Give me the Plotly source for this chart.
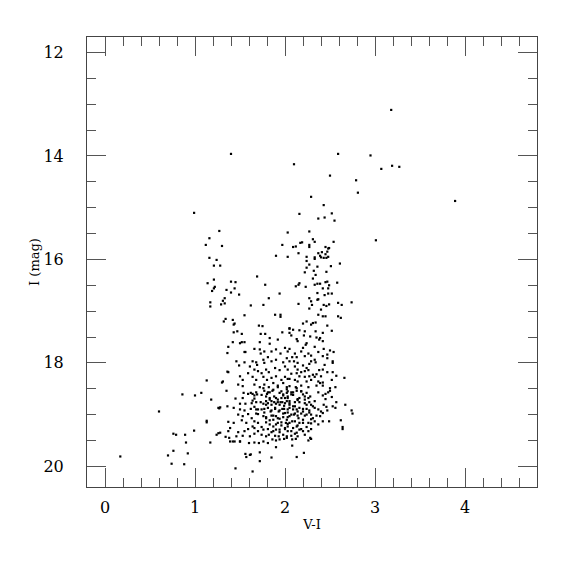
import plotly.graph_objects as go

# (V-I, I) pairs, grouped by region of the diagram
bright_stars = [
    (3.18, 13.11), (2.95, 13.99), (3.19, 14.19), (3.27, 14.21), (3.07, 14.25),
    (3.89, 14.87), (3.01, 15.63), (1.40, 13.96), (2.59, 13.96), (2.10, 14.16),
    (2.50, 14.38), (2.79, 14.47), (2.81, 14.71), (2.29, 14.79), (2.43, 14.95),
    (2.16, 15.12), (2.52, 15.11), (2.37, 15.21), (2.44, 15.19), (2.55, 15.25),
]

blue_branch = [
    (0.99, 15.10), (1.27, 15.45), (1.16, 15.59), (1.12, 15.72), (1.30, 15.74),
    (1.16, 15.97), (1.24, 16.01), (1.21, 16.12), (1.28, 16.12), (1.21, 16.39),
    (1.14, 16.46), (1.22, 16.53), (1.21, 16.56), (1.19, 16.61), (1.35, 16.59),
    (1.33, 16.75), (1.17, 16.83), (1.17, 16.91), (1.31, 16.80), (1.33, 16.85),
    (1.29, 16.87), (1.34, 17.15), (1.32, 17.20), (1.37, 17.69), (1.36, 17.81),
    (1.36, 18.17), (1.37, 18.18), (1.13, 18.34), (1.30, 18.38), (1.31, 18.36),
    (1.35, 18.54), (0.86, 18.61), (1.00, 18.63), (1.07, 18.58), (1.18, 18.71),
    (1.36, 18.84), (1.26, 18.87), (1.28, 18.86), (1.27, 18.88), (0.60, 18.94),
    (1.13, 19.12), (1.13, 19.15), (1.37, 19.14), (0.99, 19.31), (0.76, 19.37),
    (0.79, 19.39), (0.89, 19.39), (1.24, 19.39), (1.26, 19.36), (1.28, 19.35),
    (1.37, 19.32), (1.34, 19.43), (1.38, 19.45), (0.90, 19.54), (1.17, 19.54),
    (0.76, 19.70), (0.70, 19.79), (0.92, 19.75), (0.17, 19.81), (0.74, 19.95),
    (0.88, 19.96),
]

giant_branch = [
    (2.27, 15.46), (2.03, 15.48), (2.31, 15.61), (2.54, 15.66), (2.33, 15.66),
    (2.17, 15.68), (2.19, 15.67), (1.97, 15.72), (2.27, 15.72), (2.27, 15.76),
    (2.09, 15.76), (2.12, 15.75), (2.45, 15.76), (2.48, 15.79), (2.49, 15.78),
    (2.37, 15.88), (2.41, 15.86), (2.45, 15.90), (2.47, 15.85), (2.15, 15.88),
    (1.90, 15.93), (2.03, 15.95), (2.24, 15.95), (2.33, 15.96), (2.33, 15.99),
    (2.39, 15.93), (2.40, 15.96), (2.43, 15.97), (2.46, 15.97), (2.48, 15.95),
    (2.24, 16.03), (2.61, 16.08), (2.51, 16.13), (2.27, 16.10), (2.36, 16.14),
    (2.24, 16.16), (2.32, 16.22), (2.34, 16.30), (2.22, 16.25), (2.46, 16.24),
    (2.31, 16.37), (1.69, 16.33), (1.40, 16.43), (1.45, 16.44), (1.44, 16.56),
    (1.40, 16.64), (1.49, 16.68), (1.78, 16.49), (2.16, 16.46), (2.15, 16.49),
    (2.12, 16.52), (2.23, 16.53), (2.33, 16.49), (2.36, 16.47), (2.39, 16.47),
    (2.45, 16.44), (2.47, 16.43), (2.49, 16.50), (2.58, 16.45), (2.42, 16.56),
    (2.48, 16.56), (2.36, 16.65), (2.44, 16.69), (2.48, 16.66), (2.52, 16.66),
    (1.94, 16.66), (1.82, 16.75), (2.27, 16.75), (2.37, 16.77),
    # redder half, 16.8 - 18.5
    (2.15, 16.86), (2.29, 16.81), (2.30, 16.88), (2.36, 16.78), (2.43, 16.88),
    (2.46, 16.90), (2.49, 16.87), (2.59, 16.84), (2.63, 16.88), (2.74, 16.83),
    (2.27, 16.95), (2.40, 16.97), (2.37, 17.07), (2.42, 17.10), (2.45, 17.10),
    (2.59, 17.10), (2.62, 17.13), (2.24, 17.20), (2.34, 17.22), (2.20, 17.24),
    (2.29, 17.26), (2.31, 17.23), (2.47, 17.28), (2.52, 17.38), (2.05, 17.33),
    (2.09, 17.36), (2.16, 17.37), (2.22, 17.39), (2.34, 17.39), (2.28, 17.49),
    (2.42, 17.42), (2.21, 17.47), (2.07, 17.47), (2.35, 17.51), (2.39, 17.52),
    (2.42, 17.58), (2.38, 17.55), (2.13, 17.54), (2.14, 17.58), (2.24, 17.62),
    (2.23, 17.65), (2.33, 17.69), (2.20, 17.71), (2.18, 17.78), (2.05, 17.73),
    (2.43, 17.73), (2.50, 17.76), (2.54, 17.79), (2.47, 17.84), (2.42, 17.87),
    (2.37, 17.79), (2.11, 17.82), (2.08, 17.89), (2.13, 17.89), (2.26, 17.82),
    (2.29, 17.86), (2.22, 17.87), (2.10, 17.97), (2.14, 18.00), (2.29, 17.97),
    (2.33, 17.94), (2.34, 17.99), (2.27, 18.02), (2.47, 17.91), (2.53, 17.97),
    (2.53, 18.00), (2.44, 18.04), (2.20, 18.05), (2.11, 18.07), (2.14, 18.13),
    (2.24, 18.10), (2.26, 18.14), (2.22, 18.16), (2.18, 18.18), (2.13, 18.20),
    (2.07, 18.21), (2.42, 18.13), (2.47, 18.18), (2.53, 18.18), (2.38, 18.14),
    (2.35, 18.22), (2.31, 18.23), (2.27, 18.26), (2.22, 18.27), (2.05, 18.31),
    (2.11, 18.33), (2.14, 18.36), (2.16, 18.26), (2.24, 18.36), (2.29, 18.33),
    (2.33, 18.27), (2.40, 18.26), (2.37, 18.36), (2.39, 18.39), (2.42, 18.38),
    (2.52, 18.33), (2.57, 18.25), (2.66, 18.29), (2.05, 18.45), (2.12, 18.47),
    (2.18, 18.44), (2.26, 18.47), (2.35, 18.44), (2.42, 18.44), (2.50, 18.49),
    (2.56, 18.47),
    # bluer half, 16.8 - 18.5
    (1.62, 16.89), (1.76, 16.88), (1.55, 17.08), (1.89, 17.07), (1.95, 17.07),
    (1.95, 17.11), (1.42, 17.17), (1.44, 17.24), (1.43, 17.26), (1.71, 17.28),
    (1.75, 17.29), (1.47, 17.39), (1.43, 17.41), (1.52, 17.44), (1.78, 17.44),
    (1.73, 17.44), (1.97, 17.41), (2.05, 17.34), (2.05, 17.42), (1.83, 17.52),
    (1.92, 17.55), (1.42, 17.60), (1.50, 17.62), (1.52, 17.60), (1.55, 17.60),
    (1.72, 17.60), (1.83, 17.63), (1.66, 17.73), (1.55, 17.79), (1.56, 17.79),
    (1.72, 17.74), (1.77, 17.78), (1.73, 17.82), (1.85, 17.78), (1.90, 17.74),
    (1.95, 17.82), (2.00, 17.71), (2.03, 17.78), (1.46, 17.97), (1.49, 18.05),
    (1.55, 17.99), (1.64, 17.97), (1.68, 17.99), (1.69, 18.04), (1.61, 18.07),
    (1.76, 17.94), (1.81, 17.89), (1.77, 18.00), (1.85, 17.97), (1.90, 17.94),
    (1.98, 17.99), (2.02, 17.91), (2.05, 17.97), (1.59, 18.20), (1.66, 18.13),
    (1.70, 18.16), (1.74, 18.20), (1.79, 18.13), (1.82, 18.18), (1.89, 18.10),
    (1.94, 18.14), (2.00, 18.07), (2.03, 18.13), (1.50, 18.26), (1.53, 18.33),
    (1.64, 18.27), (1.68, 18.33), (1.76, 18.27), (1.80, 18.33), (1.85, 18.29),
    (1.90, 18.26), (1.96, 18.33), (2.00, 18.27), (2.03, 18.31), (1.48, 18.42),
    (1.53, 18.45), (1.66, 18.42), (1.72, 18.47), (1.77, 18.42), (1.82, 18.47),
    (1.87, 18.39), (1.92, 18.44), (1.98, 18.39), (2.02, 18.47),
]

core = [
    (1.54, 18.58), (1.59, 18.60), (1.62, 18.58), (1.64, 18.60), (1.68, 18.57),
    (1.69, 18.61), (1.77, 18.54), (1.80, 18.60), (1.83, 18.57), (1.86, 18.54),
    (1.79, 18.65), (1.94, 18.58), (1.98, 18.61), (2.02, 18.58), (2.03, 18.55),
    (1.96, 18.68), (2.00, 18.68), (2.03, 18.65), (1.45, 18.69), (1.53, 18.68),
    (1.50, 18.79), (1.56, 18.79), (1.64, 18.73), (1.66, 18.69), (1.68, 18.76),
    (1.73, 18.76), (1.76, 18.79), (1.79, 18.74), (1.81, 18.78), (1.83, 18.71),
    (1.85, 18.81), (1.88, 18.76), (1.90, 18.68), (1.92, 18.76), (1.94, 18.81),
    (1.97, 18.76), (2.00, 18.78), (2.02, 18.74), (2.05, 18.81), (1.43, 18.87),
    (1.50, 18.90), (1.55, 18.92), (1.62, 18.89), (1.66, 18.85), (1.70, 18.90),
    (1.74, 18.90), (1.77, 18.96), (1.81, 18.87), (1.85, 18.92), (1.89, 18.89),
    (1.93, 18.94), (1.97, 18.89), (2.00, 18.97), (2.03, 18.90), (1.48, 19.00),
    (1.53, 19.03), (1.59, 18.99), (1.68, 18.98), (1.63, 19.07), (1.76, 19.03),
    (1.79, 19.07), (1.85, 19.02), (1.87, 19.10), (1.90, 19.03), (1.94, 19.08),
    (1.98, 19.05), (2.02, 19.10), (2.05, 19.03), (1.43, 19.16), (1.52, 19.11),
    (1.57, 19.16), (1.64, 19.23), (1.70, 19.16), (1.74, 19.24), (1.79, 19.15),
    (1.83, 19.19), (1.87, 19.23), (1.92, 19.16), (1.96, 19.21), (2.01, 19.16),
    (2.03, 19.23), (1.39, 19.26), (1.48, 19.34), (1.55, 19.32), (1.59, 19.28),
    (1.66, 19.26), (1.70, 19.32), (1.76, 19.29), (1.81, 19.28), (1.85, 19.34),
    (1.90, 19.29), (1.94, 19.34), (2.00, 19.28), (2.03, 19.32), (1.46, 19.42),
    (1.53, 19.41), (1.61, 19.42), (1.66, 19.37), (1.74, 19.39), (1.79, 19.42),
    (1.82, 19.39), (1.89, 19.41), (1.93, 19.42), (1.98, 19.39), (2.02, 19.42),
    (1.39, 19.52), (1.44, 19.52), (1.50, 19.52), (1.60, 19.55), (1.66, 19.54),
    (1.71, 19.55), (1.76, 19.52), (1.81, 19.55), (1.86, 19.48), (1.90, 19.50),
    (1.94, 19.48), (1.99, 19.47), (2.02, 19.45), (1.42, 19.52), (1.50, 19.52),
    (1.90, 19.63), (1.56, 19.76), (1.61, 19.78), (1.62, 19.77), (1.72, 19.73),
    (1.85, 19.83), (2.13, 19.82), (2.21, 19.74), (1.57, 19.82), (1.72, 19.90),
    (1.45, 20.04), (1.64, 20.10),
    # redder part of the core
    (2.07, 18.61), (2.09, 18.57), (2.13, 18.54), (2.18, 18.55), (2.20, 18.61),
    (2.24, 18.58), (2.26, 18.68), (2.22, 18.71), (2.28, 18.65), (2.16, 18.68),
    (2.37, 18.57), (2.42, 18.63), (2.45, 18.60), (2.48, 18.57), (2.50, 18.54),
    (2.52, 18.66), (2.45, 18.70), (2.05, 18.74), (2.11, 18.76), (2.14, 18.72),
    (2.22, 18.78), (2.27, 18.76), (2.33, 18.74), (2.29, 18.81), (2.57, 18.76),
    (2.67, 18.81), (2.74, 18.92), (2.75, 18.98), (2.43, 18.81), (2.46, 18.85),
    (2.47, 18.92), (2.53, 18.84), (2.56, 18.87), (2.05, 18.87), (2.09, 18.84),
    (2.13, 18.90), (2.16, 18.87), (2.20, 18.94), (2.24, 18.89), (2.27, 18.92),
    (2.33, 18.87), (2.37, 18.90), (2.40, 18.94), (2.42, 18.97), (2.07, 19.00),
    (2.11, 18.98), (2.14, 19.02), (2.18, 18.98), (2.24, 19.00), (2.29, 19.00),
    (2.35, 19.02), (2.31, 19.07), (2.39, 19.03), (2.42, 19.13), (2.49, 19.13),
    (2.62, 19.11), (2.64, 19.28), (2.64, 19.24), (2.05, 19.16), (2.11, 19.13),
    (2.16, 19.16), (2.20, 19.10), (2.26, 19.16), (2.29, 19.17), (2.33, 19.13),
    (2.37, 19.19), (2.09, 19.26), (2.13, 19.23), (2.18, 19.28), (2.24, 19.24),
    (2.29, 19.28), (2.20, 19.32), (2.13, 19.35), (2.26, 19.32), (2.07, 19.41),
    (2.11, 19.37), (2.14, 19.42), (2.22, 19.39), (2.08, 19.48), (2.12, 19.47),
    (2.29, 19.47), (2.26, 19.50), (2.28, 19.45), (2.08, 19.60),
]

# extra stars in the crowded centre of the clump
core_dense = [
    (1.76, 18.49), (1.81, 18.57), (1.87, 18.52), (1.92, 18.47), (1.96, 18.55),
    (2.02, 18.51), (2.07, 18.57), (2.13, 18.49), (2.18, 18.55), (1.74, 18.62),
    (1.83, 18.68), (1.88, 18.65), (1.92, 18.71), (1.98, 18.63), (2.03, 18.68),
    (2.09, 18.62), (2.14, 18.70), (2.22, 18.65), (1.79, 18.81), (1.85, 18.74),
    (1.90, 18.79), (1.95, 18.76), (1.99, 18.83), (2.05, 18.78), (2.11, 18.84),
    (2.16, 18.76), (2.24, 18.81), (1.77, 18.89), (1.84, 18.94), (1.89, 18.87),
    (1.94, 18.92), (1.99, 18.89), (2.03, 18.96), (2.09, 18.90), (2.14, 18.94),
    (2.20, 18.89), (1.79, 19.05), (1.87, 19.02), (1.92, 19.07), (1.98, 18.98),
    (2.03, 19.05), (2.10, 19.00), (2.15, 19.07), (2.22, 19.02), (1.83, 19.11),
    (1.90, 19.19), (1.96, 19.15), (2.03, 19.18), (2.08, 19.13), (2.14, 19.21),
    (2.20, 19.16), (1.87, 19.32), (1.94, 19.29), (2.00, 19.26), (2.07, 19.32),
    (2.16, 19.29), (1.66, 18.63), (1.63, 18.78), (1.68, 18.90), (1.70, 18.99),
    (1.66, 19.13), (2.27, 18.96), (2.29, 19.09), (2.31, 18.84),
]

all_stars = bright_stars + blue_branch + giant_branch + core + core_dense
color_vi = [p[0] for p in all_stars]
mag_i = [p[1] for p in all_stars]

x_ticks = [0, 1, 2, 3, 4]
y_ticks = [12, 14, 16, 18, 20]

fig = go.Figure(
    go.Scatter(
        x=color_vi, y=mag_i, mode="markers",
        marker=dict(symbol="square", size=2.2, color="black", line=dict(width=0)),
        hoverinfo="x+y",
    )
)

serif = "DejaVu Serif"
axis_common = dict(
    showgrid=False, zeroline=False, showline=True, linecolor="#444", linewidth=1,
    mirror="allticks", ticks="inside", ticklen=19, tickwidth=1, tickcolor="#555",
    tickfont=dict(family=serif, size=16, color="black"),
)

fig.update_xaxes(
    **axis_common, range=[-0.2, 4.8], tickvals=x_ticks, ticktext=[str(v) for v in x_ticks],
    ticklabelstandoff=6,
    minor=dict(dtick=0.2, tick0=0, ticks="inside", ticklen=9, tickcolor="#555", tickwidth=1, showgrid=False),
    title=dict(text="V-I", font=dict(family=serif, size=13, color="black"), standoff=3),
)
fig.update_yaxes(
    **axis_common, range=[20.4, 11.7], tickvals=y_ticks, ticktext=[str(v) for v in y_ticks],
    ticklabelstandoff=19,
    minor=dict(dtick=0.5, tick0=0, ticks="inside", ticklen=9, tickcolor="#555", tickwidth=1, showgrid=False),
    title=dict(text="I (mag)", font=dict(family=serif, size=13, color="black"), standoff=0),
)

fig.update_layout(
    width=575, height=575,
    margin=dict(l=79, r=46, t=29, b=96, autoexpand=False),
    paper_bgcolor="white", plot_bgcolor="white",
    showlegend=False,
)

fig.write_html("out.html")
